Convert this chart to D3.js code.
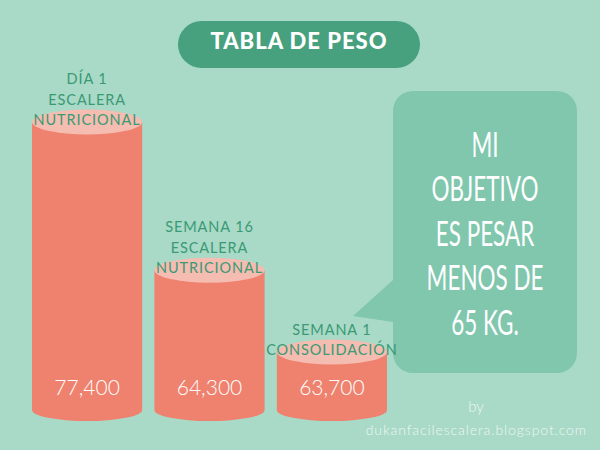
<!DOCTYPE html>
<html>
<head>
<meta charset="utf-8">
<script src="https://cdn.jsdelivr.net/npm/d3@7"></script>
<style>
  body { margin: 0; background: #a9d9c7; }
  svg { display: block; }
</style>
</head>
<body>
<svg id="chart" width="600" height="450"></svg>
<script>
// data
const categories = ["DÍA 1\nESCALERA\nNUTRICIONAL", "SEMANA 16\nESCALERA\nNUTRICIONAL", "SEMANA 1\nCONSOLIDACIÓN"];
const weights = [77.4, 64.3, 63.7];
const valueLabels = ["77,400", "64,300", "63,700"];
const title = "TABLA DE PESO";
const bubbleLines = ["MI", "OBJETIVO", "ES PESAR", "MENOS DE", "65 KG."];
const creditLines = ["by", "dukanfacilescalera.blogspot.com"];

const width = 600, height = 450;
const svg = d3.select("#chart");

svg.append("rect")
    .attr("width", width)
    .attr("height", height)
    .attr("fill", "#a9d9c7");

// title pill
svg.append("rect")
    .attr("x", 178).attr("y", 21)
    .attr("width", 242).attr("height", 47)
    .attr("rx", 23.5)
    .attr("fill", "#48a17e");

svg.append("text")
    .attr("x", 299).attr("y", 49)
    .attr("text-anchor", "middle")
    .attr("fill", "white")
    .attr("font-family", "Lato")
    .attr("font-weight", "900")
    .attr("font-size", "22px")
    .attr("letter-spacing", "1px")
    .text(title);

// speech bubble (drawn first so the bar labels can sit on top of its edge)
let bx = 393, by = 91, bw = 184, bh = 282, r = 20;
let bubblePath = d3.path();
bubblePath.moveTo(bx + r, by);
bubblePath.lineTo(bx + bw - r, by);
bubblePath.arcTo(bx + bw, by, bx + bw, by + r, r);
bubblePath.lineTo(bx + bw, by + bh - r);
bubblePath.arcTo(bx + bw, by + bh, bx + bw - r, by + bh, r);
bubblePath.lineTo(bx + r, by + bh);
bubblePath.arcTo(bx, by + bh, bx, by + bh - r, r);
bubblePath.lineTo(bx, 322);
bubblePath.lineTo(353, 316);
bubblePath.lineTo(bx, 280);
bubblePath.lineTo(bx, by + r);
bubblePath.arcTo(bx, by, bx + r, by, r);
bubblePath.closePath();

svg.append("path")
    .attr("d", bubblePath.toString())
    .attr("fill", "#80c7ae");

let bubbleText = svg.append("g")
    .attr("transform", "translate(485,0) scale(0.66,1)");

bubbleText.selectAll("text")
    .data(bubbleLines)
    .enter().append("text")
    .attr("x", 0)
    .attr("y", function (d, i) { return 157 + i * 44.5; })
    .attr("text-anchor", "middle")
    .attr("fill", "white")
    .attr("font-family", "Lato")
    .attr("font-weight", "400")
    .attr("font-size", "34px")
    .text(function (d) { return d; });

// bars
let xScale = d3.scaleBand().domain(categories).range([32, 387]).paddingInner(0.1);
// the infographic stretches small differences, so heights follow a log of the excess over ~63.55 kg
const floorWeight = 63.55;
let yScale = d3.scaleLog().domain([63.7 - floorWeight, 77.4 - floorWeight]).range([352, 122]);
const baseY = 410;
const topRy = 12.5, bottomRy = 11;

let bars = svg.selectAll(".bar")
    .data(weights)
    .enter().append("g")
    .attr("class", "bar");

bars.append("path")
    .attr("d", function (d, i) {
        let x0 = xScale(categories[i]);
        let w = xScale.bandwidth();
        let yTop = yScale(d - floorWeight);
        return "M" + x0 + "," + yTop +
            "L" + (x0 + w) + "," + yTop +
            "L" + (x0 + w) + "," + baseY +
            "A" + (w / 2) + "," + bottomRy + " 0 0 1 " + x0 + "," + baseY + "Z";
    })
    .attr("fill", "#ef826e");

bars.append("ellipse")
    .attr("cx", function (d, i) { return xScale(categories[i]) + xScale.bandwidth() / 2; })
    .attr("cy", function (d) { return yScale(d - floorWeight); })
    .attr("rx", xScale.bandwidth() / 2)
    .attr("ry", topRy)
    .attr("fill", "#f5bcb1");

// category labels above each bar
bars.each(function (d, i) {
    let lines = categories[i].split("\n");
    let cx = xScale(categories[i]) + xScale.bandwidth() / 2;
    let yLast = yScale(d - floorWeight) + 3;
    let t = d3.select(this).append("text")
        .attr("text-anchor", "middle")
        .attr("fill", "#3a9a74")
        .attr("font-family", "Lato")
        .attr("font-weight", "400")
        .attr("font-size", "14.5px")
        .attr("letter-spacing", "0.9px");
    lines.forEach(function (line, j) {
        t.append("tspan")
            .attr("x", cx)
            .attr("y", yLast - (lines.length - 1 - j) * 20.5)
            .text(line);
    });
});

bars.append("text")
    .attr("x", function (d, i) { return xScale(categories[i]) + xScale.bandwidth() / 2; })
    .attr("y", baseY - 15)
    .attr("text-anchor", "middle")
    .attr("fill", "white")
    .attr("font-family", "Lato")
    .attr("font-weight", "300")
    .attr("font-size", "21px")
    .text(function (d, i) { return valueLabels[i]; });

// credit
svg.append("text")
    .attr("x", 476).attr("y", 412)
    .attr("text-anchor", "middle")
    .attr("fill", "#eef8f3")
    .attr("font-family", "Lato")
    .attr("font-weight", "300")
    .attr("font-size", "15px")
    .text(creditLines[0]);

svg.append("text")
    .attr("x", 587).attr("y", 435)
    .attr("text-anchor", "end")
    .attr("fill", "#eef8f3")
    .attr("font-family", "Lato")
    .attr("font-weight", "300")
    .attr("font-size", "14px")
    .attr("letter-spacing", "0.9px")
    .text(creditLines[1]);
</script>
</body>
</html>
